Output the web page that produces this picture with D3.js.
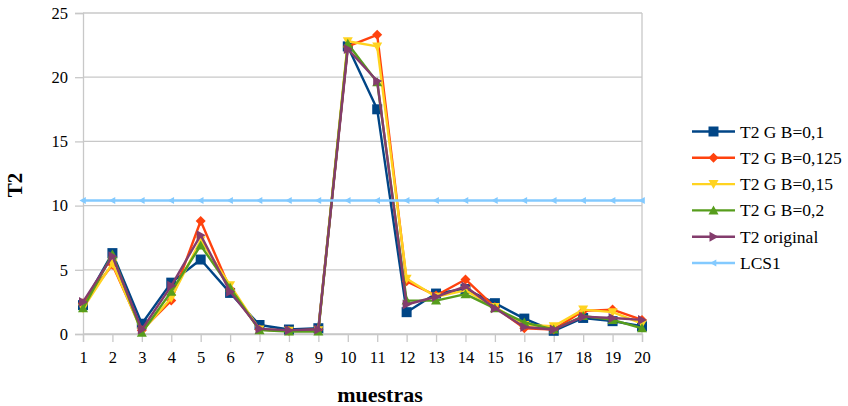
<!DOCTYPE html>
<html>
<head>
<meta charset="utf-8">
<script src="https://cdn.jsdelivr.net/npm/d3@7/dist/d3.min.js"></script>
<style>
  html, body { margin: 0; padding: 0; background: #fff; }
  svg { display: block; }
  text { font-family: "Liberation Serif", "Times New Roman", "DejaVu Serif", serif; fill: #000; }
</style>
</head>
<body>
<svg id="chart" width="848" height="406"></svg>
<script>
const categories = ["1","2","3","4","5","6","7","8","9","10","11","12","13","14","15","16","17","18","19","20"];
const yTicks = [0, 5, 10, 15, 20, 25];
const seriesNames = ["T2 G B=0,1", "T2 G B=0,125", "T2 G B=0,15", "T2 G B=0,2", "T2 original", "LCS1"];
const b01   = [2.25, 6.3, 0.8, 4.0, 5.8, 3.2, 0.7, 0.35, 0.45, 22.4, 17.5, 1.7, 3.15, 3.5, 2.4, 1.2, 0.25, 1.25, 1.0, 0.6];
const b0125 = [2.4, 5.4, 0.3, 2.6, 8.8, 3.5, 0.35, 0.25, 0.35, 22.4, 23.3, 4.1, 3.0, 4.25, 2.1, 0.45, 0.35, 1.8, 1.9, 1.1];
const b015  = [2.0, 5.5, 0.2, 2.8, 7.3, 3.8, 0.35, 0.25, 0.3, 22.8, 22.4, 4.3, 2.9, 3.4, 2.1, 0.7, 0.6, 1.9, 1.7, 0.8];
const b02   = [2.0, 6.2, 0.1, 3.3, 6.9, 3.6, 0.3, 0.2, 0.2, 22.6, 19.6, 2.6, 2.6, 3.1, 2.0, 0.9, 0.35, 1.4, 1.1, 0.45];
const orig  = [2.5, 6.05, 0.35, 3.75, 7.7, 3.3, 0.4, 0.3, 0.35, 22.2, 19.7, 2.3, 2.9, 3.7, 2.0, 0.55, 0.35, 1.35, 1.25, 1.1];
const lcs1  = [10.4, 10.4, 10.4, 10.4, 10.4, 10.4, 10.4, 10.4, 10.4, 10.4, 10.4, 10.4, 10.4, 10.4, 10.4, 10.4, 10.4, 10.4, 10.4, 10.4];

const colors = ["#004586", "#ff420e", "#ffd320", "#579d1c", "#833c6c", "#83caff"];
const shapes = ["square", "diamond", "down", "up", "right", "left"];
const allSeries = [b01, b0125, b015, b02, orig, lcs1];
const FONT = '"Liberation Serif", "Times New Roman", "DejaVu Serif", serif';

const svg = d3.select("#chart");
const pLeft = 83, pRight = 642, pTop = 13, pBottom = 334;

const x = d3.scalePoint().domain(categories).range([pLeft, pRight]);
const y = d3.scaleLinear().domain([0, 25]).range([pBottom, pTop]);

// grid
svg.append("g").selectAll("line").data(yTicks).join("line")
  .attr("x1", pLeft).attr("x2", pRight)
  .attr("y1", d => y(d)).attr("y2", d => y(d))
  .attr("stroke", "#c8c8c8").attr("stroke-width", 1.3);
// right border
svg.append("line").attr("x1", pRight).attr("x2", pRight).attr("y1", pTop).attr("y2", pBottom)
  .attr("stroke", "#c8c8c8").attr("stroke-width", 1.3);

// y axis
const yAxis = d3.axisLeft(y).tickValues(yTicks).tickSize(8).tickPadding(7);
const gy = svg.append("g").attr("transform", `translate(${pLeft},0)`).call(yAxis)
  .attr("font-family", FONT).attr("font-size", 16.5);
gy.select(".domain").attr("stroke", "#c8c8c8").attr("stroke-width", 1.3);
gy.selectAll(".tick line").attr("stroke", "#c8c8c8").attr("stroke-width", 1.3);
gy.selectAll(".tick text").attr("fill", "#000");

// x axis
const xAxis = d3.axisBottom(x).tickSize(8).tickPadding(9);
const gx = svg.append("g").attr("transform", `translate(0,${pBottom})`).call(xAxis)
  .attr("font-family", FONT).attr("font-size", 16.5);
gx.select(".domain").attr("stroke", "#c8c8c8").attr("stroke-width", 1.3);
gx.selectAll(".tick line").attr("stroke", "#c8c8c8").attr("stroke-width", 1.3);
gx.selectAll(".tick text").attr("fill", "#000");

function markerPath(shape, s) {
  const h = s / 2;
  switch (shape) {
    case "square": return `M${-h},${-h}H${h}V${h}H${-h}Z`;
    case "diamond": return `M0,${-h}L${h},0L0,${h}L${-h},0Z`;
    case "down": return `M${-h},${-h*0.8}L${h},${-h*0.8}L0,${h}Z`;
    case "up": return `M${-h},${h*0.8}L${h},${h*0.8}L0,${-h}Z`;
    case "right": return `M${-h*0.8},${-h}L${h},0L${-h*0.8},${h}Z`;
    case "left": return `M${h*0.8},${-h}L${-h},0L${h*0.8},${h}Z`;
  }
}

const line = d3.line().x((d, i) => x(categories[i])).y(d => y(d));

allSeries.forEach((vals, si) => {
  const g = svg.append("g");
  g.append("path").datum(vals).attr("d", line)
    .attr("fill", "none").attr("stroke", colors[si]).attr("stroke-width", 2.4)
    .attr("stroke-linejoin", "round");
  const size = si === 5 ? 7 : 10;
  g.selectAll("path.m").data(vals).join("path").attr("class", "m")
    .attr("transform", (d, i) => `translate(${x(categories[i])},${y(d)})`)
    .attr("d", markerPath(shapes[si], size))
    .attr("fill", colors[si]);
});

// legend
const lg = svg.append("g").attr("font-family", FONT);
seriesNames.forEach((name, i) => {
  const yy = 131.5 + i * 26.3;
  lg.append("line").attr("x1", 692).attr("x2", 735).attr("y1", yy).attr("y2", yy)
    .attr("stroke", colors[i]).attr("stroke-width", 2.4);
  lg.append("path").attr("transform", `translate(713.5,${yy})`)
    .attr("d", markerPath(shapes[i], i === 5 ? 7 : 10)).attr("fill", colors[i]);
  lg.append("text").attr("x", 740).attr("y", yy + 6)
    .attr("font-size", 17.5).text(name);
});

// axis titles
svg.append("text").attr("x", 380).attr("y", 402).attr("text-anchor", "middle")
  .attr("font-family", FONT).attr("font-size", 22).attr("font-weight", "bold").text("muestras");
svg.append("text").attr("transform", "translate(22,185) rotate(-90)").attr("text-anchor", "middle")
  .attr("font-family", FONT).attr("font-size", 21).attr("font-weight", "bold").text("T2");
</script>
</body>
</html>
